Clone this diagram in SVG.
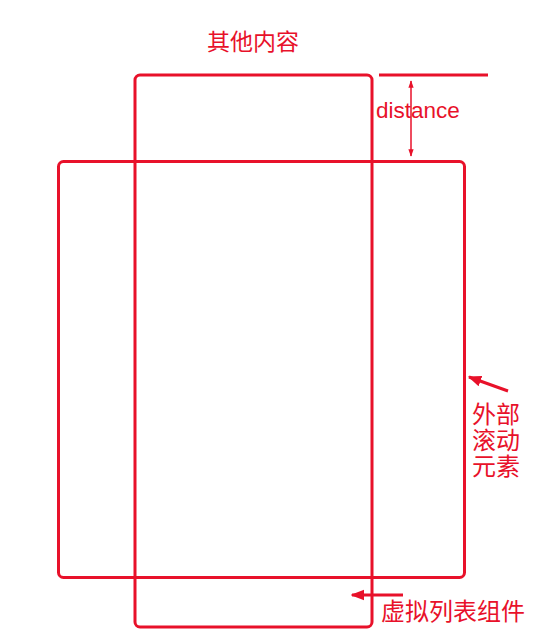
<svg xmlns="http://www.w3.org/2000/svg" width="549" height="630" viewBox="0 0 549 630">
<defs>
<style>
.box{fill:none;stroke:#e8112a;stroke-width:3}
.ln{stroke:#e8112a;fill:none}
.t{fill:#e8112a;font-family:"Liberation Sans","Noto Sans CJK SC",sans-serif}
</style>
<marker id="sm" viewBox="0 0 10 10" refX="9" refY="5" markerWidth="5" markerHeight="5" orient="auto-start-reverse"><path d="M0,1.5 L10,5 L0,8.5 Z" fill="#e8112a"/></marker>
<marker id="big" viewBox="0 0 10 10" refX="9" refY="5" markerWidth="4.5" markerHeight="4.5" orient="auto"><path d="M0,1 L10,5 L0,9 Z" fill="#e8112a"/></marker>
</defs>
<rect width="549" height="630" fill="#fff"/>
<g id="virtual-list">
<rect class="box" x="135" y="75" width="237" height="552" rx="5"/>
</g>
<g id="outer-scroll">
<rect class="box" x="58.5" y="161.5" width="406" height="416" rx="5"/>
</g>
<g id="connectors">
<line class="ln" x1="379" y1="75" x2="488" y2="75" stroke-width="3"/>
<line class="ln" x1="411" y1="81" x2="411" y2="156" stroke-width="1.5" marker-start="url(#sm)" marker-end="url(#sm)"/>
<line class="ln" x1="508" y1="391" x2="469" y2="377" stroke-width="3" marker-end="url(#big)"/>
<line class="ln" x1="403" y1="595" x2="352" y2="595" stroke-width="3" marker-end="url(#big)"/>
</g>
<g id="labels">
<text class="t" x="253" y="50" font-size="23" text-anchor="middle">其他内容</text>
<text class="t" x="376" y="118" font-size="22.5">distance</text>
<text class="t" x="472" y="423" font-size="24">外部</text>
<text class="t" x="472" y="449" font-size="24">滚动</text>
<text class="t" x="472" y="475" font-size="24">元素</text>
<text class="t" x="381" y="620" font-size="24">虚拟列表组件</text>
</g>
</svg>
